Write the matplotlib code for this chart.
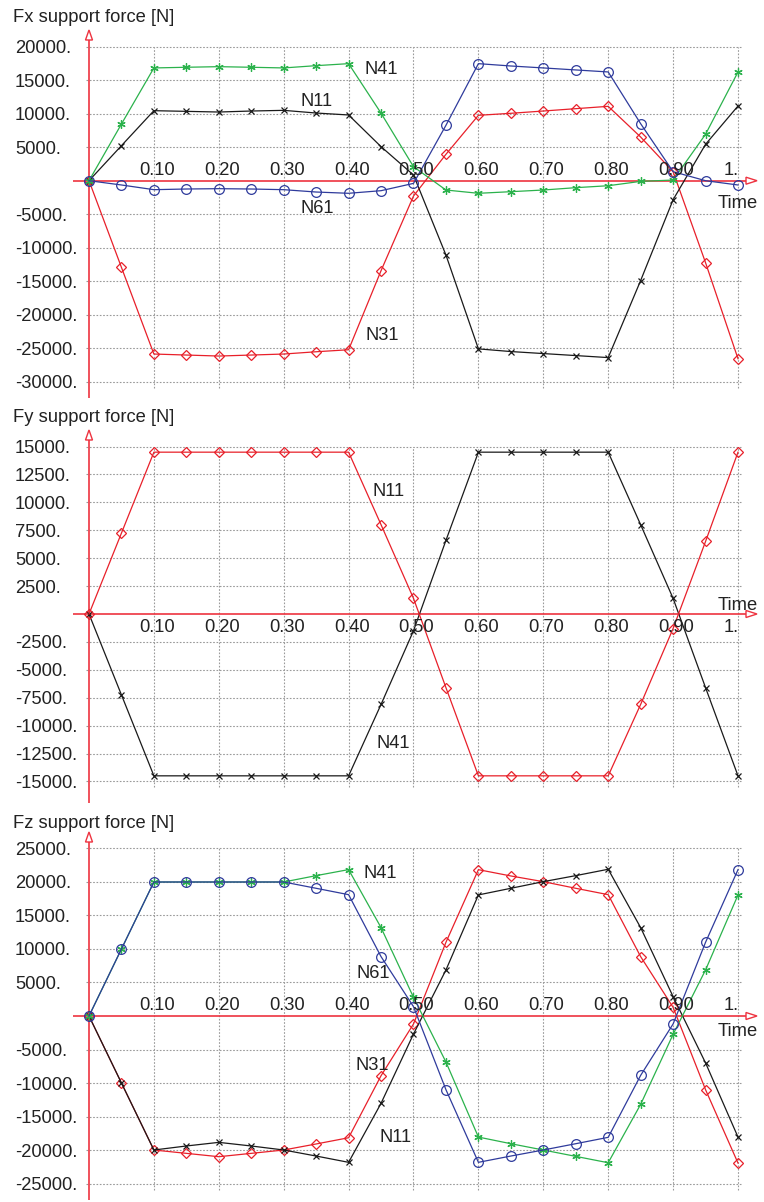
import numpy as np
import matplotlib
matplotlib.use("Agg")
import matplotlib.pyplot as plt
from matplotlib.patches import Polygon

plt.rcParams['font.family'] = ['Liberation Sans', 'DejaVu Sans']

# time steps
TIME = [0.0, 0.05, 0.10, 0.15, 0.20, 0.25, 0.30, 0.35, 0.40, 0.45, 0.50,
        0.55, 0.60, 0.65, 0.70, 0.75, 0.80, 0.85, 0.90, 0.95, 1.0]
XTICKS = [0.1, 0.2, 0.3, 0.4, 0.5, 0.6, 0.7, 0.8, 0.9, 1.0]
XTICK_LABELS = ["0.10", "0.20", "0.30", "0.40", "0.50", "0.60", "0.70", "0.80", "0.90", "1."]

# Fx support forces [N]
fx_n41 = [0, 8460, 16830, 16930, 17020, 16930, 16830, 17170, 17470, 10080, 2090,
          -1390, -1880, -1640, -1390, -1040, -750, -100, 100, 6930, 16230]
fx_n11 = [0, 5230, 10450, 10350, 10250, 10400, 10500, 10100, 9810, 5080, 850,
          -11100, -25100, -25500, -25800, -26100, -26400, -14900, -2840, 5430, 11150]
fx_n61 = [0, -640, -1340, -1240, -1190, -1240, -1340, -1690, -1880, -1490, -400,
          8270, 17470, 17120, 16830, 16530, 16230, 8510, 1350, 0, -640]
fx_n31 = [0, -12940, -25870, -26020, -26170, -26020, -25870, -25530, -25230, -13430, -2290,
          3940, 9760, 10060, 10400, 10750, 11100, 6520, 1340, -12240, -26570]

# Fy support forces [N]
fy_n11 = [0, 7250, 14500, 14500, 14500, 14500, 14500, 14500, 14500, 8000, 1400,
          -6600, -14500, -14500, -14500, -14500, -14500, -8100, -1300, 6500, 14500]
fy_n41 = [0, -7250, -14500, -14500, -14500, -14500, -14500, -14500, -14500, -8100, -1500,
          6600, 14500, 14500, 14500, 14500, 14500, 8000, 1400, -6600, -14500]

# Fz support forces [N]
fz_n41 = [0, 10000, 20000, 20000, 20000, 20000, 20000, 20950, 21850, 13190, 2790,
          -6870, -18070, -19060, -20000, -20950, -21900, -13190, -2740, 6870, 18070]
fz_n61 = [0, 10000, 20000, 20000, 20000, 20000, 20000, 19060, 18110, 8860, 1390,
          -11000, -21840, -20900, -20000, -19060, -18110, -8860, -1190, 11000, 21840]
fz_n31 = [0, -10000, -20000, -20500, -21000, -20500, -20000, -19100, -18170, -8910, -1190,
          11000, 21840, 20900, 20050, 19060, 18110, 8860, 1290, -11000, -21950]
fz_n11 = [0, -10000, -20000, -19400, -18860, -19400, -20000, -20900, -21840, -13030, -2690,
          6870, 18070, 19060, 20050, 20950, 21900, 13190, 2890, -7000, -18070]

FX_TICKS = [20000, 15000, 10000, 5000, -5000, -10000, -15000, -20000, -25000, -30000]
FY_TICKS = [15000, 12500, 10000, 7500, 5000, 2500, -2500, -5000, -7500, -10000, -12500, -15000]
FZ_TICKS = [25000, 20000, 15000, 10000, 5000, -5000, -10000, -15000, -20000, -25000]

RED, GREEN, BLUE, BLACK = "#e8202a", "#2bb24c", "#2f3b9c", "#1a1a1a"
AXRED = "#ee3340"
TXT = "#222222"
FS = 13.2

W, H = 764, 1202
X0, XS = 89.0, 649.0          # pixel of t=0, pixels per unit time
fig = plt.figure(figsize=(W / 100, H / 100), dpi=100)

CROSS = dict(color=BLACK, marker="x", ms=4.5, mew=0.9)
STAR = dict(color=GREEN, marker=(6, 2, 0), ms=6, mew=0.9)
CIRCLE = dict(color=BLUE, marker="o", ms=7, mfc="none", mew=0.9)
DIAMOND = dict(color=RED, marker="D", ms=5.5, mfc="none", mew=0.9)


def panel(top, bot, zero, scale, ticks, title, tick_above, arrow_top, time_y, series, labels):
    ax = fig.add_axes([0, 1 - bot / H, 1, (bot - top) / H])
    ax.set_axis_off()
    ax.set_xlim(-X0 / XS, (W - X0) / XS)
    ax.set_ylim((zero - bot) * scale, (zero - top) * scale)
    tx = lambda px: (px - X0) / XS
    ty = lambda py: (zero - py) * scale
    gkw = dict(colors="#9a9a9a", linestyles=(0, (1.5, 1.5)), linewidth=0.8, zorder=1)

    # dotted grid
    ax.hlines(ticks, tx(86), tx(742), **gkw)
    ax.vlines(XTICKS, min(ticks) - 6 * scale, max(ticks), **gkw)

    # axes through the origin with open arrow heads
    ax.plot([tx(73), tx(746)], [0, 0], color=AXRED, lw=1.2, zorder=2, solid_capstyle="butt")
    ax.add_patch(Polygon([[tx(746), ty(zero - 3.5)], [tx(757), 0], [tx(746), ty(zero + 3.5)]],
                         closed=True, fc="white", ec=AXRED, lw=1.0, zorder=2))
    ax.plot([0, 0], [ty(bot - 2), ty(arrow_top + 10)], color=AXRED, lw=1.2, zorder=2,
            solid_capstyle="butt")
    ax.add_patch(Polygon([[tx(X0 - 3.5), ty(arrow_top + 10)], [0, ty(arrow_top)],
                          [tx(X0 + 3.5), ty(arrow_top + 10)]],
                         closed=True, fc="white", ec=AXRED, lw=1.0, zorder=2))

    for v in ticks:
        ax.text(tx(15), v, f"{v}.", ha="left", va="center_baseline", fontsize=FS, color=TXT)
    ly = ty(zero - 12.5) if tick_above else ty(zero + 11)
    for x, lab in zip(XTICKS, XTICK_LABELS):
        if lab == "1.":
            ax.text(x + 1 / XS, ly, lab, ha="right", va="center_baseline",
                    fontsize=FS, color=TXT, zorder=6)
        else:
            ax.text(x + 3 / XS, ly, lab, ha="center", va="center_baseline",
                    fontsize=FS, color=TXT, zorder=6)
    ax.text(tx(738), ty(time_y), "Time", ha="center", va="center_baseline", fontsize=FS, color=TXT)
    ax.text(tx(13), ty(top + 16), title, ha="left", va="center_baseline", fontsize=FS, color=TXT)

    for style, vals in series:
        ax.plot(TIME, vals, lw=0.9, zorder=4, clip_on=False, **style)
    for name, px, py in labels:
        ax.text(tx(px), ty(py), name, ha="center", va="center_baseline",
                fontsize=FS, color=TXT, zorder=6)
    return ax


panel(0, 400, 180.7, 149.25, FX_TICKS, "Fx support force [N]", True, 30, 202,
      [(DIAMOND, fx_n31), (CROSS, fx_n11), (STAR, fx_n41), (CIRCLE, fx_n61)],
      [("N41", 381, 68), ("N11", 317, 100), ("N61", 317, 207), ("N31", 382, 334)])

panel(400, 805, 614, 89.6, FY_TICKS, "Fy support force [N]", False, 430, 603,
      [(CROSS, fy_n41), (DIAMOND, fy_n11)],
      [("N11", 389, 489), ("N41", 393, 742)])

panel(805, 1202, 1016, 149.25, FZ_TICKS, "Fz support force [N]", True, 832, 1029,
      [(DIAMOND, fz_n31), (CROSS, fz_n11), (STAR, fz_n41), (CIRCLE, fz_n61)],
      [("N41", 380, 872), ("N61", 373, 972), ("N31", 372, 1064), ("N11", 396, 1136)])

fig.savefig("out.png", dpi=100)
